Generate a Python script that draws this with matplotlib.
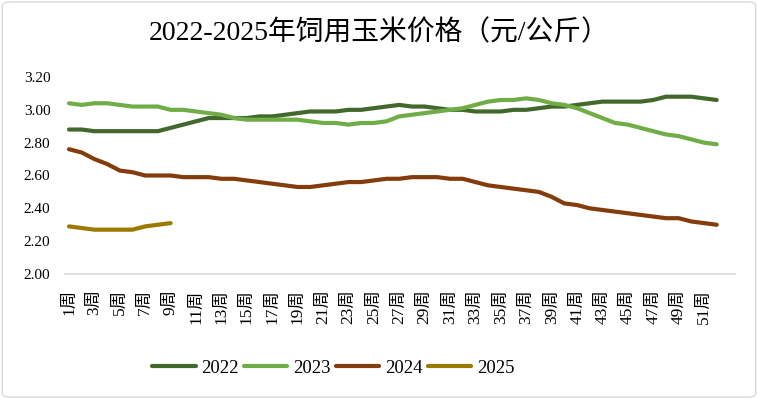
import matplotlib
matplotlib.use("Agg")
import matplotlib.pyplot as plt
from matplotlib.patches import FancyBboxPatch

plt.rcParams['font.family'] = ['Liberation Serif', 'Noto Sans CJK SC']

# weekly feed corn price, yuan/kg
weeks = list(range(1, 53))
p2022 = [2.88, 2.88, 2.87, 2.87, 2.87, 2.87, 2.87, 2.87, 2.89, 2.91,
         2.93, 2.95, 2.95, 2.95, 2.95, 2.96, 2.96, 2.97, 2.98, 2.99,
         2.99, 2.99, 3.00, 3.00, 3.01, 3.02, 3.03, 3.02, 3.02, 3.01,
         3.00, 3.00, 2.99, 2.99, 2.99, 3.00, 3.00, 3.01, 3.02, 3.02,
         3.03, 3.04, 3.05, 3.05, 3.05, 3.05, 3.06, 3.08, 3.08, 3.08,
         3.07, 3.06]
p2023 = [3.04, 3.03, 3.04, 3.04, 3.03, 3.02, 3.02, 3.02, 3.00, 3.00,
         2.99, 2.98, 2.97, 2.95, 2.94, 2.94, 2.94, 2.94, 2.94, 2.93,
         2.92, 2.92, 2.91, 2.92, 2.92, 2.93, 2.96, 2.97, 2.98, 2.99,
         3.00, 3.01, 3.03, 3.05, 3.06, 3.06, 3.07, 3.06, 3.04, 3.03,
         3.01, 2.98, 2.95, 2.92, 2.91, 2.89, 2.87, 2.85, 2.84, 2.82,
         2.80, 2.79]
p2024 = [2.76, 2.74, 2.70, 2.67, 2.63, 2.62, 2.60, 2.60, 2.60, 2.59,
         2.59, 2.59, 2.58, 2.58, 2.57, 2.56, 2.55, 2.54, 2.53, 2.53,
         2.54, 2.55, 2.56, 2.56, 2.57, 2.58, 2.58, 2.59, 2.59, 2.59,
         2.58, 2.58, 2.56, 2.54, 2.53, 2.52, 2.51, 2.50, 2.47, 2.43,
         2.42, 2.40, 2.39, 2.38, 2.37, 2.36, 2.35, 2.34, 2.34, 2.32,
         2.31, 2.30]
p2025 = [2.29, 2.28, 2.27, 2.27, 2.27, 2.27, 2.29, 2.30, 2.31]

years = ['2022', '2023', '2024', '2025']
colors = ['#43682B', '#70AD47', '#843C0C', '#9C7A00']
yticks = [2.00, 2.20, 2.40, 2.60, 2.80, 3.00, 3.20]
xticks = list(range(1, 52, 2))
xlabels = [str(w) + '周' for w in xticks]

fig = plt.figure(figsize=(7.58, 3.99), dpi=100)
ax = fig.add_axes([65 / 758, 1 - 274 / 399, 670 / 758, 197 / 399])

for yr, vals, c in zip(years, [p2022, p2023, p2024, p2025], colors):
    ax.plot(weeks[:len(vals)], vals, color=c, lw=3, label=yr,
            solid_capstyle='round', solid_joinstyle='round')

ax.set_xlim(0.685, 53.44)
ax.set_ylim(2.0, 3.2)
ax.set_yticks(yticks)
ax.set_yticklabels(['%.2f' % v for v in yticks], fontsize=11)
ax.set_xticks(xticks)
ax.set_xticklabels(xlabels, rotation=90, fontsize=12.5, va='top', ha='center')
ax.tick_params(axis='y', length=0, pad=10.5)
ax.tick_params(axis='x', length=0, pad=11)
for s in ['top', 'right', 'left']:
    ax.spines[s].set_visible(False)
ax.spines['bottom'].set_color('#D9D9D9')
ax.spines['bottom'].set_linewidth(1.2)

fig.text(0.5, 1 - 33 / 399, '2022-2025年饲用玉米价格（元/公斤）',
         ha='center', va='center', fontsize=20)

fig.legend(loc='center left', bbox_to_anchor=(143 / 758, 1 - 368 / 399),
           ncol=4, frameon=False, fontsize=13.5, handlelength=2.3,
           handletextpad=0.3, columnspacing=0.3, borderpad=0)

border = FancyBboxPatch((0.003, 0.005), 0.994, 0.99, boxstyle='round,pad=0,rounding_size=0.01',
                        transform=fig.transFigure, fill=False, edgecolor='#D9D9D9', lw=1)
fig.patches.append(border)

fig.savefig('out.png', dpi=100)
